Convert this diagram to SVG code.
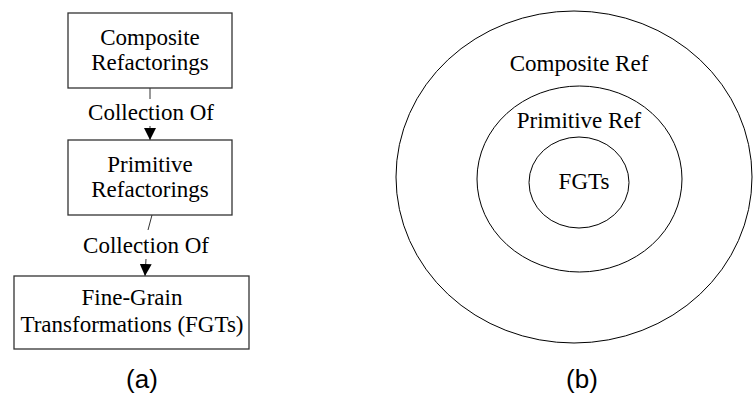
<svg xmlns="http://www.w3.org/2000/svg" width="754" height="401" viewBox="0 0 754 401">
  <defs>
    <style>
      .box { fill: #ffffff; stroke: #333333; stroke-width: 1.3; }
      .ring { fill: none; stroke: #000000; stroke-width: 1; }
      .edge { stroke: #333333; stroke-width: 1; fill: none; }
      .serif { font-family: "Liberation Serif", "Times New Roman", serif; font-size: 23px; fill: #000000; text-anchor: middle; }
      .cap { font-family: "Liberation Sans", Arial, sans-serif; font-size: 26px; fill: #000000; text-anchor: middle; }
    </style>
    <marker id="arrow" viewBox="0 0 12 12" refX="12" refY="6" markerWidth="12" markerHeight="12" markerUnits="userSpaceOnUse" orient="auto">
      <path d="M0,0 L12,6 L0,12 Z" fill="#000000"/>
    </marker>
  </defs>

  <rect width="754" height="401" fill="#ffffff"/>

  <!-- (a) hierarchy -->
  <g id="connectors">
    <line class="edge" x1="150" y1="88" x2="150" y2="99"/>
    <line class="edge" x1="150" y1="126" x2="150" y2="140" marker-end="url(#arrow)"/>
    <line class="edge" x1="152" y1="215" x2="148" y2="230"/>
    <line class="edge" x1="146" y1="259" x2="145" y2="276" marker-end="url(#arrow)"/>
    <text class="serif" x="151" y="120">Collection Of</text>
    <text class="serif" x="146" y="253">Collection Of</text>
  </g>

  <g id="composite">
    <rect class="box" x="68" y="13" width="164" height="75"/>
    <text class="serif" x="150" y="45">Composite</text>
    <text class="serif" x="150" y="70">Refactorings</text>
  </g>

  <g id="primitive">
    <rect class="box" x="68" y="140" width="164" height="75"/>
    <text class="serif" x="150" y="172">Primitive</text>
    <text class="serif" x="150" y="197">Refactorings</text>
  </g>

  <g id="fgt">
    <rect class="box" x="14" y="276" width="235" height="73"/>
    <text class="serif" x="132" y="305">Fine-Grain</text>
    <text class="serif" x="132" y="332">Transformations (FGTs)</text>
  </g>

  <text class="cap" x="142" y="388">(a)</text>

  <!-- (b) nested scopes -->
  <g id="composite-ring">
    <ellipse class="ring" cx="574" cy="177" rx="178" ry="166"/>
    <text class="serif" x="579" y="71">Composite Ref</text>
  </g>
  <g id="primitive-ring">
    <ellipse class="ring" cx="579.5" cy="179" rx="102.5" ry="93"/>
    <text class="serif" x="579" y="128">Primitive Ref</text>
  </g>
  <g id="fgt-ring">
    <ellipse class="ring" cx="579" cy="182.5" rx="50" ry="45.5"/>
    <text class="serif" x="584" y="189">FGTs</text>
  </g>

  <text class="cap" x="582" y="388">(b)</text>
</svg>
